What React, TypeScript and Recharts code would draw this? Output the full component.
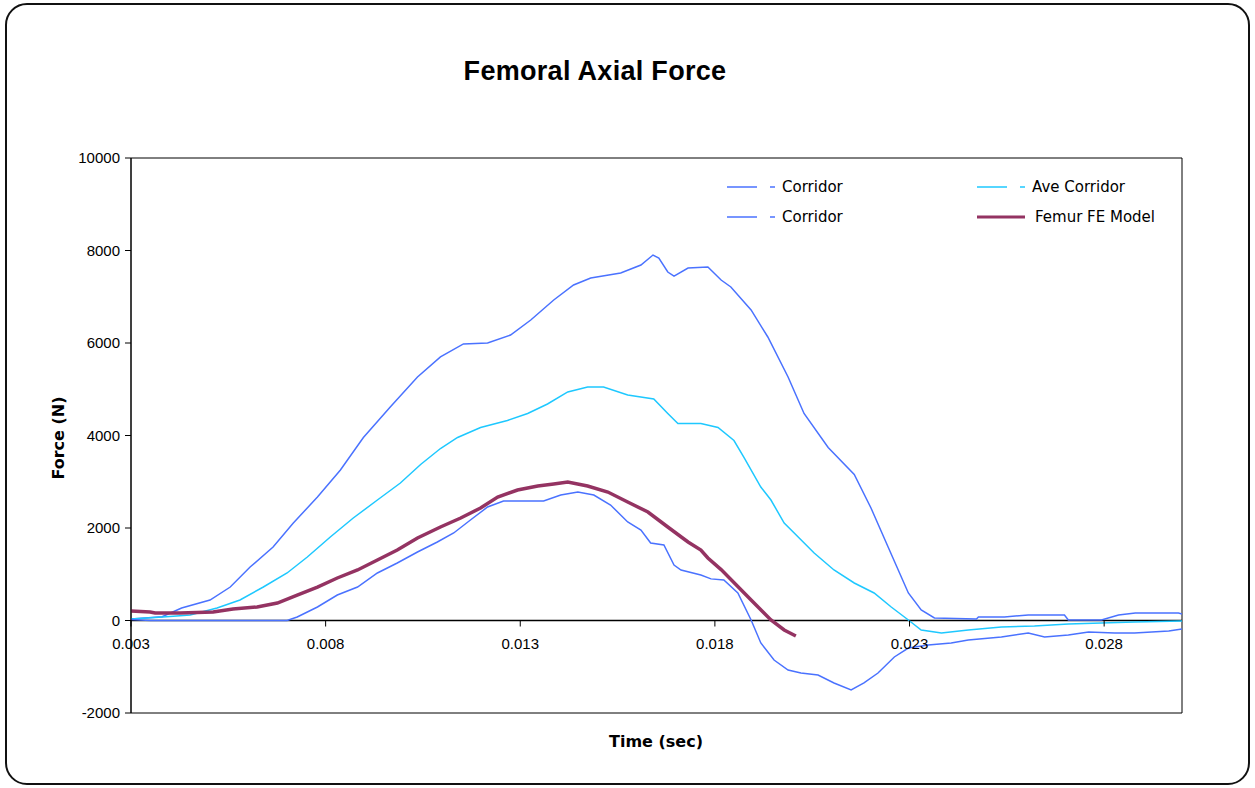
import {
  LineChart,
  Line,
  XAxis,
  YAxis,
  ReferenceLine,
  ReferenceArea,
} from 'recharts';

// time (sec) / force (N) pairs
const upperT = [0.003, 0.0038, 0.0043, 0.00503, 0.00555, 0.00606, 0.00665, 0.00717, 0.00779, 0.00838, 0.00897, 0.00966, 0.01036, 0.01095, 0.01154, 0.01216, 0.01275, 0.01327, 0.01386, 0.01437, 0.01481, 0.01558, 0.0161, 0.01641, 0.01656, 0.01679, 0.01695, 0.01731, 0.01782, 0.01816, 0.01841, 0.01893, 0.01936, 0.01988, 0.02029, 0.02091, 0.02158, 0.02201, 0.02245, 0.02297, 0.0233, 0.02364, 0.02472, 0.02477, 0.02544, 0.02605, 0.02698, 0.02708, 0.02793, 0.02837, 0.0288, 0.02991, 0.03];
const upperF = [30, 80, 270, 443, 724, 1156, 1589, 2108, 2670, 3254, 3957, 4616, 5265, 5698, 5979, 6000, 6173, 6497, 6930, 7254, 7405, 7513, 7686, 7902, 7837, 7535, 7448, 7621, 7643, 7362, 7211, 6714, 6130, 5265, 4476, 3741, 3157, 2432, 1589, 595, 227, 54, 30, 76, 76, 119, 119, 11, 11, 119, 162, 162, 140];

const aveT = [0.003, 0.00382, 0.00452, 0.00521, 0.0058, 0.0064, 0.00701, 0.00753, 0.00812, 0.00871, 0.00933, 0.00992, 0.01044, 0.01095, 0.01139, 0.01198, 0.01267, 0.01319, 0.0137, 0.01422, 0.01473, 0.01514, 0.01576, 0.01643, 0.01679, 0.01705, 0.01764, 0.01808, 0.01849, 0.01875, 0.01918, 0.01944, 0.01978, 0.02014, 0.02055, 0.02106, 0.02158, 0.02209, 0.02253, 0.02297, 0.0233, 0.02382, 0.02451, 0.02536, 0.02621, 0.02708, 0.02793, 0.02878, 0.03];
const aveF = [30, 76, 119, 270, 443, 724, 1027, 1373, 1805, 2216, 2605, 2973, 3373, 3719, 3957, 4173, 4324, 4476, 4681, 4941, 5049, 5049, 4876, 4790, 4476, 4259, 4259, 4173, 3892, 3524, 2886, 2605, 2108, 1805, 1459, 1092, 811, 595, 292, 11, -205, -270, -205, -140, -119, -76, -54, -32, -11];

const lowerT = [0.003, 0.0035, 0.00701, 0.00727, 0.00779, 0.0083, 0.00882, 0.00933, 0.00984, 0.01036, 0.01087, 0.01129, 0.01172, 0.01216, 0.01257, 0.01301, 0.0136, 0.01404, 0.01448, 0.01489, 0.01532, 0.01576, 0.0161, 0.01635, 0.01669, 0.01695, 0.01713, 0.01764, 0.0179, 0.01823, 0.01859, 0.01893, 0.01918, 0.01952, 0.01988, 0.02021, 0.02065, 0.02106, 0.0215, 0.02183, 0.02219, 0.02261, 0.02297, 0.02348, 0.02407, 0.02451, 0.02536, 0.02605, 0.02647, 0.02708, 0.0276, 0.02827, 0.02878, 0.02966, 0.03];
const lowerF = [20, 0, 0, 76, 292, 551, 724, 1027, 1243, 1481, 1697, 1892, 2173, 2454, 2584, 2584, 2584, 2713, 2778, 2713, 2497, 2130, 1957, 1676, 1632, 1200, 1092, 984, 900, 876, 595, 11, -486, -854, -1070, -1135, -1178, -1351, -1503, -1351, -1135, -789, -595, -530, -486, -422, -357, -270, -357, -313, -249, -270, -270, -227, -184];

const modelT = [0.003, 0.00349, 0.00362, 0.00426, 0.00511, 0.00562, 0.00624, 0.00676, 0.00727, 0.00779, 0.0083, 0.00882, 0.00933, 0.00984, 0.01036, 0.01095, 0.01147, 0.01198, 0.01242, 0.01293, 0.01345, 0.01386, 0.01422, 0.01473, 0.01525, 0.01576, 0.01628, 0.01679, 0.01731, 0.01764, 0.01782, 0.01816, 0.01893, 0.01944, 0.01978, 0.02008];
const modelF = [205, 184, 162, 162, 184, 249, 292, 378, 551, 724, 919, 1092, 1308, 1524, 1784, 2022, 2216, 2432, 2670, 2822, 2908, 2951, 2994, 2908, 2778, 2562, 2346, 2022, 1697, 1524, 1351, 1100, 443, 11, -205, -335];

const xTicks = [0.003, 0.008, 0.013, 0.018, 0.023, 0.028];
const yTicks = [-2000, 0, 2000, 4000, 6000, 8000, 10000];

const zip = (ts: number[], fs: number[]) => ts.map((t, i) => ({ t, f: fs[i] }));

const BLUE = '#4a72ff';
const CYAN = '#1ec8ff';
const MAROON = '#943362';

// legend order is row by row, as in the original
const series = [
  { name: 'Corridor', color: BLUE, width: 1.5, data: zip(upperT, upperF) },
  { name: 'Ave Corridor', color: CYAN, width: 1.5, data: zip(aveT, aveF) },
  { name: 'Corridor', color: BLUE, width: 1.5, data: zip(lowerT, lowerF) },
  { name: 'Femur FE Model', color: MAROON, width: 3.5, data: zip(modelT, modelF) },
];

const W = 1255;
const H = 788;
const PLOT_TOP = 158;
const PLOT_BOTTOM = 713;
const PLOT_LEFT = 131;
const PLOT_RIGHT = 1182;
const Y_MIN = -2000;
const Y_MAX = 10000;
const FONT = '"Liberation Sans", Arial, sans-serif';
const WIDE = '"DejaVu Sans", Verdana, sans-serif';

// x axis sits on the zero line, like the Excel original
const zeroY = PLOT_TOP + ((PLOT_BOTTOM - PLOT_TOP) * Y_MAX) / (Y_MAX - Y_MIN);

function XTick(props: any) {
  const { x, payload } = props;
  return (
    <g>
      <line x1={x} x2={x} y1={zeroY} y2={zeroY + 6} stroke="#000" />
      <text x={x} y={zeroY + 28} textAnchor="middle" fontSize={15} fontFamily={FONT} fill="#000">
        {Number(payload.value).toFixed(3)}
      </text>
    </g>
  );
}

function LegendBox() {
  return (
    <div
      style={{
        position: 'absolute',
        left: 727,
        top: 177,
        display: 'grid',
        gridTemplateColumns: '250px 210px',
        rowGap: 11,
        fontFamily: WIDE,
        fontSize: 15,
      }}
    >
      {series.map((s, i) => {
        const solid = s.name === 'Femur FE Model';
        return (
          <div key={i} style={{ display: 'flex', alignItems: 'center', height: 19 }}>
            <svg width={solid ? 58 : 55} height={10}>
              {solid ? (
                <line x1={0} x2={48} y1={5} y2={5} stroke={s.color} strokeWidth={3} />
              ) : (
                <>
                  <line x1={0} x2={30} y1={5} y2={5} stroke={s.color} strokeWidth={1.5} />
                  <line x1={43} x2={48} y1={5} y2={5} stroke={s.color} strokeWidth={1.5} />
                </>
              )}
            </svg>
            <span style={{ color: '#000' }}>{s.name}</span>
          </div>
        );
      })}
    </div>
  );
}

export default function App() {
  return (
    <div style={{ position: 'absolute', left: 0, top: 0, width: W, height: H, background: '#fff' }}>
      <div
        style={{
          position: 'absolute',
          left: 5,
          top: 3,
          width: 1245,
          height: 782,
          boxSizing: 'border-box',
          border: '2px solid #111',
          borderRadius: 22,
        }}
      />
      <div
        style={{
          position: 'absolute',
          left: 0,
          width: 1190,
          top: 56,
          textAlign: 'center',
          fontFamily: FONT,
          fontWeight: 'bold',
          fontSize: 27,
          letterSpacing: 0.3,
        }}
      >
        Femoral Axial Force
      </div>
      <div
        style={{
          position: 'absolute',
          left: 0,
          top: 732,
          width: 2 * 656,
          textAlign: 'center',
          fontFamily: WIDE,
          fontWeight: 'bold',
          fontSize: 16,
        }}
      >
        Time (sec)
      </div>
      <div
        style={{
          position: 'absolute',
          left: 58,
          top: 438,
          transform: 'translate(-50%, -50%) rotate(-90deg)',
          fontFamily: WIDE,
          fontWeight: 'bold',
          fontSize: 16,
          whiteSpace: 'nowrap',
        }}
      >
        Force (N)
      </div>
      <div style={{ position: 'absolute', left: 0, top: 0 }}>
        <LineChart
          width={W}
          height={H}
          margin={{ top: PLOT_TOP, right: W - PLOT_RIGHT, bottom: H - PLOT_BOTTOM - 40, left: PLOT_LEFT - 70 }}
        >
          <XAxis
            dataKey="t"
            type="number"
            domain={[0.003, 0.03]}
            ticks={xTicks}
            allowDataOverflow
            height={40}
            axisLine={false}
            tickLine={false}
            tick={<XTick />}
          />
          <YAxis
            type="number"
            domain={[Y_MIN, Y_MAX]}
            ticks={yTicks}
            width={70}
            axisLine={{ stroke: '#000' }}
            tickLine={{ stroke: '#000' }}
            tickSize={6}
            tickMargin={5}
            tick={{ fill: '#000', fontSize: 15, fontFamily: FONT }}
          />
          <ReferenceArea x1={0.003} x2={0.03} y1={Y_MIN} y2={Y_MAX} fill="none" stroke="#000" strokeOpacity={1} fillOpacity={0} />
          <ReferenceLine y={0} stroke="#000" strokeWidth={1.5} />
          {series.map((s, i) => (
            <Line
              key={i}
              data={s.data}
              dataKey="f"
              name={s.name}
              stroke={s.color}
              strokeWidth={s.width}
              dot={false}
              isAnimationActive={false}
            />
          ))}
        </LineChart>
      </div>
      <LegendBox />
    </div>
  );
}
